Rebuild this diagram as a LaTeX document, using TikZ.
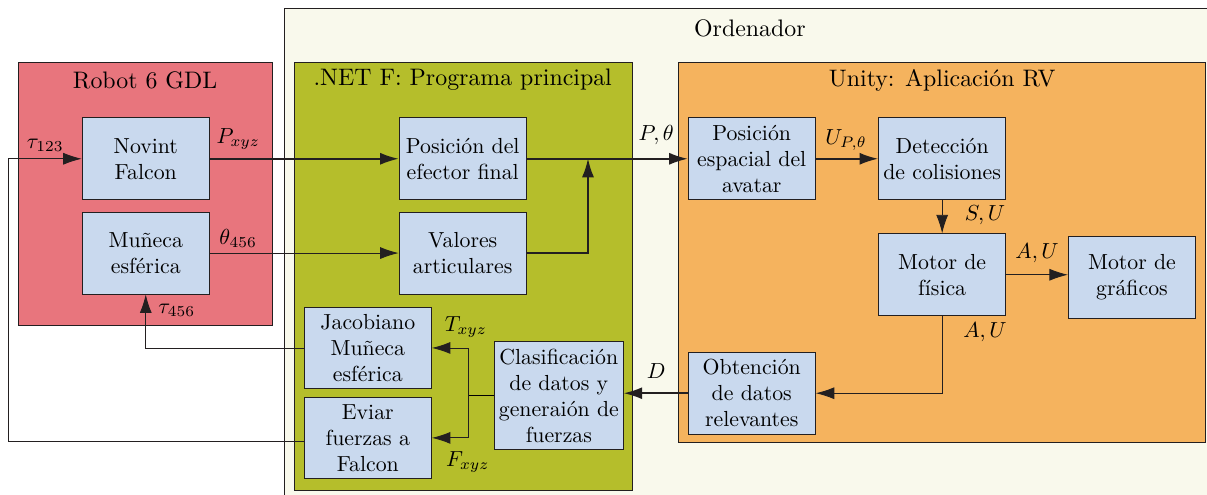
\documentclass[tikz,border=0pt,11pt]{standalone}
\usepackage{amsmath}
\usepackage{xcolor}
\usetikzlibrary{arrows.meta,calc,positioning}

\definecolor{crema}{HTML}{F9F9EC}
\definecolor{rojo}{HTML}{E8757D}
\definecolor{oliva}{HTML}{B5BE2B}
\definecolor{naranja}{HTML}{F5B35E}
\definecolor{azul}{HTML}{C9D9EE}
\definecolor{borde}{HTML}{231F20}

\tikzset{
	bloque/.style={draw=borde, fill=azul, minimum width=2.05cm, minimum height=1.32cm, align=center, font=\small, inner sep=2pt},
	marco/.style={draw=borde},
	titulo/.style={font=\normalsize},
	flecha/.style={-{Latex[length=8.5pt,width=5.5pt]}, draw=borde},
	etiq/.style={font=\small},
}

\begin{document}
\begin{tikzpicture}
		\useasboundingbox (0,0) rectangle (19.46,7.98);
		% contenedores
		\draw[marco, fill=crema] (4.58,7.85) rectangle (19.9,-0.3);
		\draw[marco, fill=rojo] (0.29,6.98) rectangle (4.39,2.74);
		\draw[marco, fill=oliva] (4.74,6.98) rectangle (10.20,0.08);
		\draw[marco, fill=naranja] (10.93,6.98) rectangle (19.44,0.85);
		\node[titulo] (tord) at (12.09,7.53) {Ordenador};
		\node[titulo] (trobot) at (2.34,6.69) {Robot 6 GDL};
		\node[titulo] (tnet) at (7.46,6.69) {.NET F: Programa principal};
		\node[titulo] (tunity) at (15.19,6.69) {Unity: Aplicación RV};
		% bloques
		\node[bloque] (novint) at (2.35,5.42) {Novint\\Falcon};
		\node[bloque] (muneca) at (2.35,3.90) {Muñeca\\esférica};
		\node[bloque] (posef) at (7.46,5.42) {Posición del\\efector final};
		\node[bloque] (valores) at (7.46,3.90) {Valores\\articulares};
		\node[bloque] (jacob) at (5.93,2.37) {Jacobiano\\Muñeca\\esférica};
		\node[bloque] (enviar) at (5.93,0.92) {Eviar\\fuerzas a\\Falcon};
		\node[bloque, minimum width=2.06cm, minimum height=1.74cm] (clasif) at (9.01,1.60) {Clasificación\\de datos y\\generaión de\\fuerzas};
		\node[bloque] (posesp) at (12.12,5.42) {Posición\\espacial del\\avatar};
		\node[bloque] (detec) at (15.19,5.42) {Detección\\de colisiones};
		\node[bloque] (motorf) at (15.19,3.55) {Motor de\\física};
		\node[bloque] (motorg) at (18.25,3.51) {Motor de\\gráficos};
		\node[bloque] (obten) at (12.12,1.64) {Obtención\\de datos\\relevantes};
		% puntos auxiliares
		\coordinate (union) at (9.48,5.42);
		\coordinate (reparto) at (7.56,1.60);
		\coordinate (izq) at (0.13,0.87);
		% flechas
		\draw[flecha, thick] (novint) -- (posef);
		\draw[flecha] (muneca) -- (valores);
		\draw[flecha, semithick] (valores.east) -| (union);
		\draw[flecha, thick] (posef) -- (posesp);
		\draw[flecha, thick] (posesp) -- (detec);
		\draw[flecha] (detec) -- (motorf);
		\draw[flecha] (motorf.east) -- (motorf.east -| motorg.west);
		\draw[flecha] (motorf.south) |- (obten.east);
		\draw[flecha, thick] (obten.west) -- (obten.west -| clasif.east);
		\draw (clasif.west) -- (reparto);
		\draw[flecha] (reparto) |- (jacob.east);
		\draw[flecha] (reparto) |- (enviar.east);
		\draw[flecha] (jacob.west) -| (muneca.south);
		\draw[flecha] (enviar.west |- izq) -- (izq) |- (novint.west);
		% etiquetas
		\node[etiq] (ltau1) at (0.73,5.64) {$\tau_{123}$};
		\node[etiq] (lpxyz) at (3.84,5.74) {$P_{xyz}$};
		\node[etiq] (ltheta) at (3.84,4.14) {$\theta_{456}$};
		\node[etiq] (ltau4) at (2.85,2.98) {$\tau_{456}$};
		\node[etiq] (lpth) at (10.58,5.80) {$P,\theta$};
		\node[etiq] (lupth) at (13.64,5.72) {$U_{P,\theta}$};
		\node[etiq] (lsu) at (15.88,4.51) {$S,U$};
		\node[etiq] (lau1) at (16.72,3.89) {$A,U$};
		\node[etiq] (lau2) at (15.88,2.63) {$A,U$};
		\node[etiq] (ld) at (10.58,2.00) {$D$};
		\node[etiq] (ltxyz) at (7.51,2.71) {$T_{xyz}$};
		\node[etiq] (lfxyz) at (7.54,0.53) {$F_{xyz}$};
\end{tikzpicture}
\end{document}
